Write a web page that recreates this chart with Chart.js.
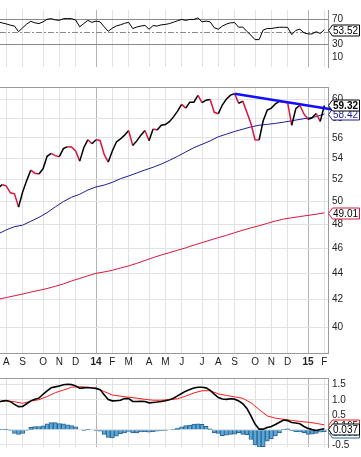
<!DOCTYPE html>
<html lang="en">
<head>
<meta charset="UTF-8">
<title>Weekly price chart</title>
<script src="https://cdn.jsdelivr.net/npm/chart.js"></script>
<style>
  html, body { margin: 0; padding: 0; background: #fff; }
  #wrap { position: relative; width: 361px; height: 457px; overflow: hidden; }
  #wrap canvas { position: absolute; left: 0; }
</style>
</head>
<body>
<div id="wrap">
  <canvas id="rsiChart" width="361" height="77" style="top:0"></canvas>
  <canvas id="priceChart" width="361" height="291" style="top:77px"></canvas>
  <canvas id="macdChart" width="361" height="89" style="top:368px"></canvas>
</div>
<script>
  // weekly bars, first one dated Monday 22 Jul 2013
  const firstWeek = Date.UTC(2013, 6, 22);

  const close = [
    51.21, 51.54, 51.39, 50.79, 50.69, 49.51, 50.86, 51.92, 52.88, 52.59,
    52.52, 53.00, 54.19, 54.47, 54.26, 54.16, 54.94, 55.13, 55.10, 54.72,
    53.73, 55.03, 55.82, 55.41, 55.82, 55.74, 54.38, 53.64, 54.70, 55.60,
    55.89, 56.27, 56.73, 55.25, 55.70, 56.27, 56.73, 55.72, 56.88, 56.78,
    57.27, 57.34, 57.64, 58.13, 58.73, 59.44, 59.04, 59.67, 59.67, 60.39,
    59.61, 59.88, 59.95, 58.60, 58.46, 59.39, 60.00, 60.42, 60.57, 59.54,
    59.78, 58.60, 57.44, 55.82, 55.79, 57.73, 58.83, 59.04, 59.49, 59.75,
    59.65, 59.61, 57.27, 58.98, 59.34, 58.43, 57.88, 58.03, 58.48, 57.67,
    59.32
  ];

  // moving averages, read every second week
  const maBlue = [
    47.21, 47.55, 47.82, 47.95, 48.28, 48.62, 49.03, 49.53, 50.00, 50.39,
    50.66, 51.04, 51.32, 51.49, 51.74, 52.08, 52.33, 52.61, 52.89, 53.15,
    53.45, 53.80, 54.19, 54.61, 55.03, 55.36, 55.70, 56.11, 56.37, 56.64,
    56.87, 57.10, 57.27, 57.36, 57.46, 57.58, 57.73, 57.87, 58.00, 58.15,
    58.42
  ];
  const maRed = [
    42.03, 42.16, 42.29, 42.42, 42.57, 42.70, 42.84, 43.01, 43.19, 43.42,
    43.62, 43.82, 44.01, 44.12, 44.25, 44.43, 44.60, 44.80, 45.03, 45.26,
    45.47, 45.66, 45.86, 46.05, 46.28, 46.48, 46.69, 46.90, 47.09, 47.31,
    47.52, 47.72, 47.90, 48.10, 48.30, 48.47, 48.58, 48.69, 48.79, 48.89,
    49.01
  ];

  // hand drawn resistance line
  const trendWeeks = [58, 84.3];
  const trendValues = [60.57, 58.73];

  const rsi = [
    65.7, 64.0, 62.4, 60.5, 59.1, 50.2, 56.4, 62.2, 66.5, 64.2,
    63.0, 65.7, 69.8, 70.7, 68.8, 68.0, 70.7, 70.9, 70.7, 68.6,
    57.9, 63.0, 68.0, 64.9, 66.9, 65.7, 57.9, 50.9, 55.8, 59.3,
    61.0, 63.4, 64.9, 55.2, 57.6, 59.1, 60.2, 54.1, 59.9, 59.1,
    61.0, 61.6, 63.0, 65.1, 67.4, 69.5, 68.0, 69.5, 69.5, 71.9,
    65.7, 66.9, 65.7, 56.4, 54.1, 59.1, 62.2, 64.2, 64.5, 57.2,
    57.6, 50.6, 44.8, 37.8, 37.8, 52.9, 55.2, 55.2, 56.4, 57.2,
    57.2, 57.0, 45.6, 52.3, 54.1, 48.6, 46.7, 46.7, 50.2, 47.4,
    53.52
  ];

  const macd = [
    0.918, 0.956, 0.977, 0.938, 0.848, 0.771, 0.778, 0.869, 0.964, 1.015,
    1.054, 1.183, 1.299, 1.397, 1.428, 1.461, 1.497, 1.518, 1.505, 1.459,
    1.384, 1.397, 1.407, 1.389, 1.379, 1.338, 1.170, 1.008, 0.964, 0.969,
    0.985, 1.039, 1.041, 0.943, 0.943, 0.951, 0.941, 0.899, 0.912, 0.925,
    0.943, 0.966, 1.003, 1.049, 1.131, 1.209, 1.286, 1.338, 1.389, 1.415,
    1.415, 1.397, 1.312, 1.188, 1.072, 1.023, 1.013, 1.036, 1.021, 0.961,
    0.869, 0.711, 0.461, 0.191, 0.023, 0.023, 0.075, 0.113, 0.178, 0.255,
    0.327, 0.307, 0.247, 0.229, 0.204, 0.111, 0.049, 0.008, -0.021, 0.010,
    0.037
  ];
  // signal, every second week
  const signal = [
    0.943, 0.966, 0.936, 0.881, 0.954, 1.003, 1.106, 1.235, 1.322, 1.418,
    1.438, 1.412, 1.387, 1.276, 1.157, 1.119, 1.085, 1.054, 1.015, 0.985,
    0.985, 1.003, 1.034, 1.119, 1.227, 1.299, 1.302, 1.196, 1.144, 1.098,
    1.049, 0.899, 0.678, 0.464, 0.389, 0.351, 0.314, 0.281, 0.253, 0.216,
    0.165
  ];
  const hist = [
    0.02, 0.02, 0.01, -0.02, -0.12, -0.15, -0.12, -0.02, 0.08, 0.11,
    0.11, 0.13, 0.20, 0.24, 0.24, 0.21, 0.20, 0.17, 0.14, 0.10,
    0.00, -0.01, 0.01, 0.00, -0.01, -0.04, -0.15, -0.25, -0.27, -0.21,
    -0.13, -0.10, -0.05, -0.10, -0.10, -0.07, -0.06, -0.08, -0.06, -0.04,
    -0.03, -0.01, 0.00, 0.02, 0.06, 0.10, 0.14, 0.16, 0.19, 0.20,
    0.18, 0.12, 0.03, -0.10, -0.12, -0.19, -0.18, -0.15, -0.14, -0.09,
    -0.15, -0.16, -0.32, -0.50, -0.58, -0.56, -0.38, -0.30, -0.20, -0.10,
    0.02, 0.03, -0.03, -0.06, -0.07, -0.09, -0.15, -0.14, -0.12, -0.08,
    -0.06
  ];

  const priceTicks = [40, 42, 44, 46, 48, 50, 52, 54, 56, 58, 60];
  const rsiTicks = [10, 30, 50, 70];
  const macdTicks = [-0.5, 0, 0.5, 1.0, 1.5];
  const monthLetters = ['J', 'F', 'M', 'A', 'M', 'J', 'J', 'A', 'S', 'O', 'N', 'D'];

  const weeks = close.map((_, i) => new Date(firstWeek + i * 7 * 86400000));
  const monthTicks = [];
  weeks.forEach((d, i) => {
    if (i > 0 && d.getUTCMonth() !== weeks[i - 1].getUTCMonth()) monthTicks.push(i);
  });
  const isYear = i => weeks[i] !== undefined && weeks[i].getUTCMonth() === 0;
  const tickLabel = i => isYear(i) ? String(weeks[i].getUTCFullYear()).slice(2) : monthLetters[weeks[i].getUTCMonth()];

  const pts = (arr, step) => arr.map((v, i) => ({ x: i * step, y: v }));

  Chart.defaults.font.family = '"Liberation Sans", Arial, sans-serif';
  Chart.defaults.font.size = 10;
  Chart.defaults.color = '#222';

  function xScale(showLabels) {
    return {
      type: 'linear', min: 0.45, max: 80.9, offset: false,
      afterBuildTicks: s => { s.ticks = monthTicks.map(i => ({ value: i })); },
      grid: {
        offset: false, drawTicks: false,
        color: c => (c.tick && isYear(c.tick.value)) ? '#b4b4b4' : '#e2e2e2'
      },
      border: { display: false },
      ticks: {
        display: showLabels, autoSkip: false, maxRotation: 0, padding: 3,
        callback: v => tickLabel(v),
        font: c => ({ size: 10, weight: (c.tick && isYear(c.tick.value)) ? 'bold' : 'normal' })
      },
      afterFit: s => { s.height = showLabels ? 15 : 0; }
    };
  }

  function yScale(extra) {
    return Object.assign({
      position: 'right',
      grid: { color: '#e2e2e2', drawTicks: false },
      border: { color: '#9a9a9a' },
      ticks: { padding: 4, autoSkip: false },
      afterFit: s => { s.width = 33; }
    }, extra);
  }

  // last-value labels on the right edge
  const valueBoxes = {
    id: 'valueBoxes',
    afterDraw(chart, args, opts) {
      const ctx = chart.ctx, y = chart.scales.y, left = chart.chartArea.right + 0.5;
      (opts.items || []).forEach(b => {
        const cy = Math.round(y.getPixelForValue(b.value)) + 0.5;
        const r = chart.width - 1.5, h = 5.5;
        ctx.save();
        ctx.beginPath();
        ctx.moveTo(left, cy);
        ctx.lineTo(left + 4, cy - h);
        ctx.lineTo(r, cy - h);
        ctx.lineTo(r, cy + h);
        ctx.lineTo(left + 4, cy + h);
        ctx.closePath();
        ctx.fillStyle = '#fff';
        ctx.fill();
        ctx.strokeStyle = b.stroke;
        ctx.lineWidth = 1;
        ctx.stroke();
        ctx.fillStyle = b.color;
        ctx.font = (b.bold ? 'bold ' : '') + '10px "Liberation Sans", Arial, sans-serif';
        ctx.textBaseline = 'middle';
        ctx.textAlign = 'right';
        ctx.fillText(b.text, r - 1.5, cy + 0.5);
        ctx.restore();
      });
    }
  };

  // panel borders and the RSI centre line
  const panelLines = {
    id: 'panelLines',
    beforeDatasetsDraw(chart, args, opts) {
      const ctx = chart.ctx, a = chart.chartArea;
      ctx.save();
      ctx.strokeStyle = '#999';
      ctx.lineWidth = 1;
      (opts.edges || []).forEach(e => {
        const yy = (e === 'top' ? a.top : a.bottom) + 0.5;
        ctx.beginPath(); ctx.moveTo(a.left, yy); ctx.lineTo(a.right, yy); ctx.stroke();
      });
      if (opts.dashAt !== undefined) {
        const yy = Math.round(chart.scales.y.getPixelForValue(opts.dashAt)) + 0.5;
        ctx.strokeStyle = '#8a8a8a';
        ctx.setLineDash([6, 2, 2, 2]);
        ctx.beginPath(); ctx.moveTo(a.left, yy); ctx.lineTo(a.right, yy); ctx.stroke();
      }
      ctx.restore();
    }
  };

  const common = {
    responsive: false, animation: false, devicePixelRatio: 1, events: [],
    layout: { padding: 0, autoPadding: false }
  };

  new Chart(document.getElementById('rsiChart'), {
    type: 'line',
    data: { datasets: [{ data: pts(rsi, 1), borderColor: '#000', borderWidth: 1, pointRadius: 0, tension: 0 }] },
    options: Object.assign({}, common, {
      scales: {
        x: xScale(false),
        y: yScale({
          min: -5.2, max: 84.3,
          afterBuildTicks: s => { s.ticks = rsiTicks.map(v => ({ value: v })); },
          grid: { drawTicks: false, color: c => (c.tick && (c.tick.value === 70 || c.tick.value === 30)) ? '#8a8a8a' : 'rgba(0,0,0,0)' }
        })
      },
      plugins: {
        legend: { display: false }, tooltip: { enabled: false },
        panelLines: { dashAt: 50 },
        valueBoxes: { items: [{ value: rsi[rsi.length - 1], text: rsi[rsi.length - 1].toFixed(2), stroke: '#000', color: '#000' }] }
      }
    }),
    plugins: [panelLines, valueBoxes]
  });

  new Chart(document.getElementById('priceChart'), {
    type: 'line',
    data: {
      datasets: [
        { data: trendWeeks.map((w, i) => ({ x: w, y: trendValues[i] })), borderColor: '#1010ff', borderWidth: 2.5, pointRadius: 0, clip: false },
        {
          data: pts(close, 1), borderWidth: 1.5, pointRadius: 0, tension: 0, borderColor: '#000',
          segment: { borderColor: c => c.p1.parsed.y < c.p0.parsed.y ? '#dc143c' : '#000' }
        },
        { data: pts(maBlue, 2), borderColor: '#1c1c9c', borderWidth: 1, pointRadius: 0, tension: 0 },
        { data: pts(maRed, 2), borderColor: '#dc143c', borderWidth: 1, pointRadius: 0, tension: 0 }
      ]
    },
    options: Object.assign({}, common, {
      scales: {
        x: xScale(true),
        y: yScale({
          type: 'logarithmic', min: 38.2, max: 61.3,
          afterBuildTicks: s => { s.ticks = priceTicks.map(v => ({ value: v })); },
          ticks: { padding: 4, autoSkip: false, callback: v => String(v) }
        })
      },
      plugins: {
        legend: { display: false }, tooltip: { enabled: false },
        panelLines: { edges: ['top', 'bottom'] },
        valueBoxes: {
          items: [
            { value: maRed[maRed.length - 1], text: maRed[maRed.length - 1].toFixed(2), stroke: '#dc143c', color: '#000' },
            { value: maBlue[maBlue.length - 1], text: maBlue[maBlue.length - 1].toFixed(2), stroke: '#1c1c9c', color: '#1c1c9c' },
            { value: close[close.length - 1], text: close[close.length - 1].toFixed(2), stroke: '#000', color: '#000', bold: true }
          ]
        }
      }
    }),
    plugins: [panelLines, valueBoxes]
  });

  new Chart(document.getElementById('macdChart'), {
    type: 'bar',
    data: {
      datasets: [
        { type: 'line', data: pts(macd, 1), borderColor: '#000', borderWidth: 1.6, pointRadius: 0, tension: 0 },
        { type: 'line', data: pts(signal, 2), borderColor: '#ff1a1a', borderWidth: 1, pointRadius: 0, tension: 0 },
        {
          type: 'bar', data: pts(hist, 1), backgroundColor: '#5aa7d6', borderColor: '#2a6496',
          borderWidth: 1, barPercentage: 1, categoryPercentage: 1
        }
      ]
    },
    options: Object.assign({}, common, {
      scales: {
        x: xScale(false),
        y: yScale({
          min: -0.57, max: 1.724,
          afterBuildTicks: s => { s.ticks = macdTicks.map(v => ({ value: v })); },
          ticks: { padding: 4, autoSkip: false, callback: v => v.toFixed(1) }
        })
      },
      plugins: {
        legend: { display: false }, tooltip: { enabled: false },
        panelLines: { edges: ['top'] },
        valueBoxes: {
          items: [
            { value: signal[signal.length - 1], text: signal[signal.length - 1].toFixed(3), stroke: '#ff1a1a', color: '#000' },
            { value: hist[hist.length - 1], text: hist[hist.length - 1].toFixed(3), stroke: '#2a6496', color: '#2a6496' },
            { value: macd[macd.length - 1], text: macd[macd.length - 1].toFixed(3), stroke: '#000', color: '#000' }
          ]
        }
      }
    }),
    plugins: [panelLines, valueBoxes]
  });
</script>
</body>
</html>
